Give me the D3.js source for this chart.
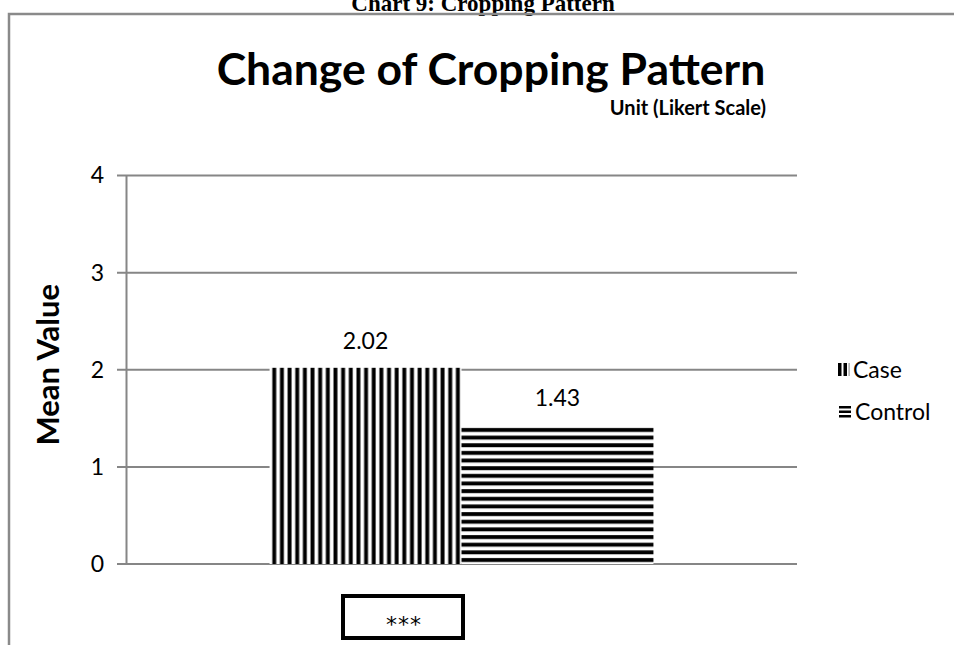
<!DOCTYPE html>
<html>
<head>
<meta charset="utf-8">
<script src="https://cdn.jsdelivr.net/npm/d3@7"></script>
<style>
  html, body { margin: 0; padding: 0; background: #fff; }
  svg { display: block; }
  text { font-family: Lato, "Open Sans", sans-serif; fill: #000; }
</style>
</head>
<body>
<div id="chart"></div>
<script>
// Chart data
const seriesNames = ["Case", "Control"];
const meanValues = [2.02, 1.43];
const yTicks = [0, 1, 2, 3, 4];
const pageTitle = "Chart 9: Cropping Pattern";
const chartTitle = "Change of Cropping Pattern";
const unitLabel = "Unit (Likert Scale)";
const yLabel = "Mean Value";
const sigLabel = "***";

const width = 954, height = 645;
const margin = { top: 175.5, right: 157, bottom: 81, left: 126 };

const svg = d3.select("#chart").append("svg")
  .attr("width", width)
  .attr("height", height);

// stripe patterns
const defs = svg.append("defs");
const vp = defs.append("pattern")
  .attr("id", "vstripe")
  .attr("patternUnits", "userSpaceOnUse")
  .attr("width", 7.65).attr("height", 10)
  .attr("x", 270);
vp.append("rect").attr("width", 7.65).attr("height", 10).attr("fill", "#fff");
vp.append("rect").attr("x", 0.5).attr("width", 3.9).attr("height", 10).attr("fill", "#000");

const hp = defs.append("pattern")
  .attr("id", "hstripe")
  .attr("patternUnits", "userSpaceOnUse")
  .attr("width", 10).attr("height", 7.65)
  .attr("y", 425);
hp.append("rect").attr("width", 10).attr("height", 7.65).attr("fill", "#fff");
hp.append("rect").attr("y", 3).attr("width", 10).attr("height", 3.9).attr("fill", "#000");

// page caption (cut off at top, as in the source page)
svg.append("text")
  .attr("x", 483).attr("y", 11)
  .attr("text-anchor", "middle")
  .style("font-family", "'Liberation Serif', 'DejaVu Serif', serif")
  .style("font-weight", "bold")
  .style("font-size", "23px")
  .text(pageTitle);

// outer frame
svg.append("path")
  .attr("d", `M9,${height} V14 H${width}`)
  .attr("fill", "none")
  .attr("stroke", "#8a8a8a")
  .attr("stroke-width", 2.5);

// titles
svg.append("text")
  .attr("x", 491).attr("y", 85)
  .attr("text-anchor", "middle")
  .style("font-weight", "bold")
  .style("font-size", "44.5px")
  .text(chartTitle);

svg.append("text")
  .attr("x", 766).attr("y", 115)
  .attr("text-anchor", "end")
  .style("font-weight", "bold")
  .style("font-size", "20px")
  .text(unitLabel);

// scales
const x0 = d3.scaleBand()
  .domain(["g"])
  .range([margin.left, width - margin.right])
  .paddingInner(0)
  .paddingOuter(0.374);
const x1 = d3.scaleBand()
  .domain(seriesNames)
  .range([0, x0.bandwidth()]);
const y = d3.scaleLinear()
  .domain([0, 4])
  .range([height - margin.bottom, margin.top]);

// gridlines
svg.append("g")
  .selectAll("line")
  .data(yTicks)
  .join("line")
  .attr("x1", margin.left - 9)
  .attr("x2", width - margin.right)
  .attr("y1", d => y(d))
  .attr("y2", d => y(d))
  .attr("stroke", "#868686")
  .attr("stroke-width", 2);

// y axis
const yAxis = d3.axisLeft(y).tickValues(yTicks).tickFormat(d3.format("d")).tickSize(0).tickPadding(22);
const yg = svg.append("g")
  .attr("transform", `translate(${margin.left},0)`)
  .call(yAxis);
yg.select(".domain").attr("stroke", "#868686").attr("stroke-width", 2);
yg.selectAll("text")
  .style("font-family", "Lato, 'Open Sans', sans-serif")
  .style("font-size", "23px")
  .attr("fill", "#000");

svg.append("text")
  .attr("transform", `translate(59,${(y(0) + y(4)) / 2 - 5}) rotate(-90)`)
  .attr("text-anchor", "middle")
  .style("font-weight", "bold")
  .style("font-size", "31px")
  .text(yLabel);

// bars
const fills = ["url(#vstripe)", "url(#hstripe)"];
const bars = svg.append("g")
  .attr("transform", `translate(${x0("g")},0)`);
bars.selectAll("rect")
  .data(meanValues)
  .join("rect")
  .attr("x", (d, i) => x1(seriesNames[i]))
  .attr("width", x1.bandwidth())
  .attr("y", d => y(d))
  .attr("height", d => y(0) - y(d))
  .attr("fill", (d, i) => fills[i]);

bars.selectAll("text")
  .data(meanValues)
  .join("text")
  .attr("x", (d, i) => x1(seriesNames[i]) + x1.bandwidth() / 2)
  .attr("y", d => y(d) - 19)
  .attr("text-anchor", "middle")
  .style("font-size", "23px")
  .text(d => d.toFixed(2));

// legend
const legend = svg.append("g").attr("transform", "translate(838,370)");
const lc = legend.append("g");
lc.append("rect").attr("x", 0).attr("y", -7).attr("width", 3.5).attr("height", 13).attr("fill", "#000");
lc.append("rect").attr("x", 5.5).attr("y", -7).attr("width", 3.5).attr("height", 13).attr("fill", "#000");
lc.append("rect").attr("x", 10.5).attr("y", -7).attr("width", 1.2).attr("height", 13).attr("fill", "#999");
legend.append("text").attr("x", 15).attr("y", 8).style("font-size", "23px").text(seriesNames[0]);

const lt = legend.append("g").attr("transform", "translate(1,42)");
lt.append("rect").attr("x", 0).attr("y", -6).attr("width", 12).attr("height", 2.5).attr("fill", "#000");
lt.append("rect").attr("x", 0).attr("y", -1.5).attr("width", 12).attr("height", 2.5).attr("fill", "#000");
lt.append("rect").attr("x", 0).attr("y", 3).attr("width", 12).attr("height", 2.5).attr("fill", "#000");
lt.append("text").attr("x", 16).attr("y", 8).style("font-size", "23px").text(seriesNames[1]);

// significance box
svg.append("rect")
  .attr("x", 343).attr("y", 596)
  .attr("width", 120).attr("height", 42)
  .attr("fill", "#fff")
  .attr("stroke", "#000")
  .attr("stroke-width", 4);
svg.append("text")
  .attr("x", 404).attr("y", 632)
  .attr("text-anchor", "middle")
  .style("font-family", "'DejaVu Sans', sans-serif")
  .style("font-size", "22px")
  .style("letter-spacing", "1px")
  .text(sigLabel);
</script>
</body>
</html>
